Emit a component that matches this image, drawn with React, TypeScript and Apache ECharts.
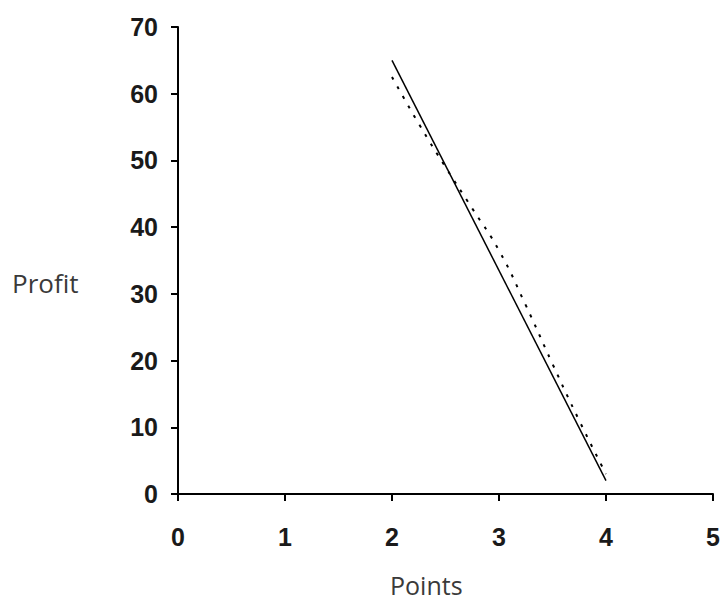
import React, { useEffect, useRef } from "react";
import * as echarts from "echarts";

const solidX = [2, 4];
const solidY = [65, 2];
const dottedX = [2, 2.25, 2.5, 2.75, 3, 3.25, 3.5, 3.75, 4];
const dottedY = [62.5, 55.5, 49, 42.8, 36.5, 28.3, 19.5, 11, 3];
const xTicks = [0, 1, 2, 3, 4, 5];
const yTicks = [0, 10, 20, 30, 40, 50, 60, 70];
const xName = "Points";
const yName = "Profit";

export default function App() {
  const ref = useRef<HTMLDivElement>(null);
  useEffect(() => {
    if (!ref.current) return;
    const chart = echarts.init(ref.current, null, { renderer: "svg" });
    const labelStyle = {
      color: "#1a1a1a",
      fontFamily: "Liberation Sans, Arial, sans-serif",
      fontWeight: "bold" as const,
      fontSize: 25,
    };
    chart.setOption({
      animation: false,
      backgroundColor: "#ffffff",
      grid: { left: 178, right: 10, top: 27, bottom: 114, containLabel: false },
      xAxis: {
        type: "value",
        min: xTicks[0],
        max: xTicks[xTicks.length - 1],
        interval: 1,
        axisLine: { show: true, onZero: false, lineStyle: { color: "#000", width: 2 } },
        axisTick: { show: true, length: 7, lineStyle: { color: "#000", width: 2 } },
        axisLabel: { ...labelStyle, margin: 30 },
        splitLine: { show: false },
      },
      yAxis: {
        type: "value",
        min: yTicks[0],
        max: yTicks[yTicks.length - 1],
        interval: 10,
        axisLine: { show: true, onZero: false, lineStyle: { color: "#000", width: 2 } },
        axisTick: { show: true, length: 7, lineStyle: { color: "#000", width: 2 } },
        axisLabel: { ...labelStyle, margin: 20 },
        splitLine: { show: false },
      },
      graphic: [
        {
          type: "text",
          left: 12,
          top: 270,
          style: {
            text: yName,
            fill: "#3a3a3a",
            font: "26px 'Open Sans', sans-serif",
          },
        },
        {
          type: "text",
          left: 390,
          top: 572,
          style: {
            text: xName,
            fill: "#3a3a3a",
            font: "25px 'Open Sans', sans-serif",
          },
        },
      ],
      series: [
        {
          type: "line",
          data: solidX.map((x, i) => [x, solidY[i]]),
          showSymbol: false,
          lineStyle: { color: "#000", width: 1.5 },
        },
        {
          type: "line",
          data: dottedX.map((x, i) => [x, dottedY[i]]),
          showSymbol: false,
          smooth: true,
          lineStyle: { color: "#000", width: 2, type: [3, 8] },
        },
      ],
    });
    return () => chart.dispose();
  }, []);
  return (
    <div
      ref={ref}
      style={{ position: "fixed", left: 0, top: 0, width: 723, height: 608, background: "#fff" }}
    />
  );
}
